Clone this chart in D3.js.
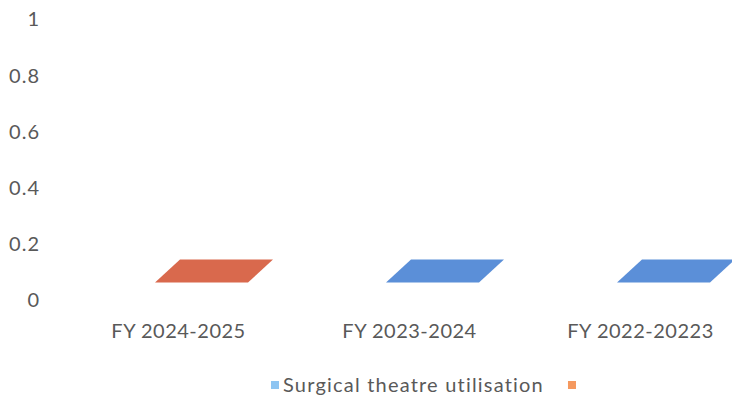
<!DOCTYPE html>
<html>
<head>
<meta charset="utf-8">
<script src="https://cdn.jsdelivr.net/npm/d3@7"></script>
<style>
  html, body { margin: 0; padding: 0; background: #fff; }
  svg { display: block; }
  text { font-family: Lato, "Open Sans", sans-serif; fill: #595959; }
</style>
</head>
<body>
<svg id="chart" width="732" height="402"></svg>
<script>
// Fiscal years on the category axis
const categories = ["FY 2024-2025", "FY 2023-2024", "FY 2022-20223"];
// Series values per category (null = no bar for that year)
const utilisation = [null, 0, 0];
const otherSeries = [0, null, null];
// Value-axis ticks
const yTicks = [0, 0.2, 0.4, 0.6, 0.8, 1];
const yTickLabels = ["0", "0.2", "0.4", "0.6", "0.8", "1"];

const seriesList = [
  { name: "Surgical theatre utilisation", values: utilisation, fill: "#5b8fd8", key: "#8ec5f2" },
  { name: "", values: otherSeries, fill: "#d9694d", key: "#f5995f" }
];

const svg = d3.select("#chart");

const x = d3.scaleBand().domain(categories).range([63, 756]).paddingInner(0).paddingOuter(0);
const y = d3.scaleLinear().domain([0, 1]).range([300.5, 19.5]);

// Oblique 3D projection: depth shifts points right and up
const frontDepth = { dx: 23, dy: 18 };
const backDepth = { dx: 48, dy: 41 };
const barW = 93;

// Value axis
const yAxis = d3.axisLeft(y)
  .tickValues(yTicks)
  .tickFormat((d, i) => yTickLabels[i])
  .tickSize(0)
  .tickPadding(0);
const yg = svg.append("g").attr("transform", "translate(40,0)").call(yAxis);
yg.select(".domain").remove();
yg.selectAll("text").style("font-family", null).attr("font-size", 20)
  .attr("fill", "#595959").style("letter-spacing", "1px");

// Category axis
const xAxis = d3.axisBottom(x).tickSize(0).tickPadding(0);
const xg = svg.append("g").attr("transform", "translate(0,324)").call(xAxis);
xg.select(".domain").remove();
xg.selectAll("text").style("font-family", null).attr("font-size", 20)
  .attr("fill", "#595959").style("letter-spacing", "0.5px");

// 3D bars: front face, right side face, top face
const barsG = svg.append("g");
seriesList.forEach(s => {
  s.values.forEach((v, i) => {
    if (v === null || v === undefined) return;
    const cx = x(categories[i]) + x.bandwidth() / 2;
    const x0 = cx - barW / 2 + frontDepth.dx;
    const x1 = x0 + barW;
    const yTop = y(v) - frontDepth.dy;
    const yBase = y(0) - frontDepth.dy;
    const bx = backDepth.dx - frontDepth.dx;
    const by = backDepth.dy - frontDepth.dy;
    const g = barsG.append("g");
    // front
    g.append("path")
      .attr("d", `M${x0},${yBase}L${x1},${yBase}L${x1},${yTop}L${x0},${yTop}Z`)
      .attr("fill", s.fill);
    // side
    g.append("path")
      .attr("d", `M${x1},${yBase}L${x1 + bx},${yBase - by}L${x1 + bx},${yTop - by}L${x1},${yTop}Z`)
      .attr("fill", d3.color(s.fill).darker(0.4));
    // top
    g.append("path")
      .attr("d", `M${x0},${yTop}L${x1},${yTop}L${x1 + bx},${yTop - by}L${x0 + bx},${yTop - by}Z`)
      .attr("fill", s.fill);
  });
});

// Legend
const legend = svg.append("g").attr("transform", "translate(0,385)");
let lx = 271;
seriesList.forEach(s => {
  legend.append("rect").attr("x", lx).attr("y", -4).attr("width", 8).attr("height", 8).attr("fill", s.key);
  const t = legend.append("text").attr("x", lx + 12).attr("y", 0).attr("dy", "0.35em")
    .attr("font-size", 20).style("letter-spacing", "1.2px").text(s.name);
  const tw = s.name ? t.node().getComputedTextLength() : 0;
  lx += 12 + tw + 24;
});
</script>
</body>
</html>
